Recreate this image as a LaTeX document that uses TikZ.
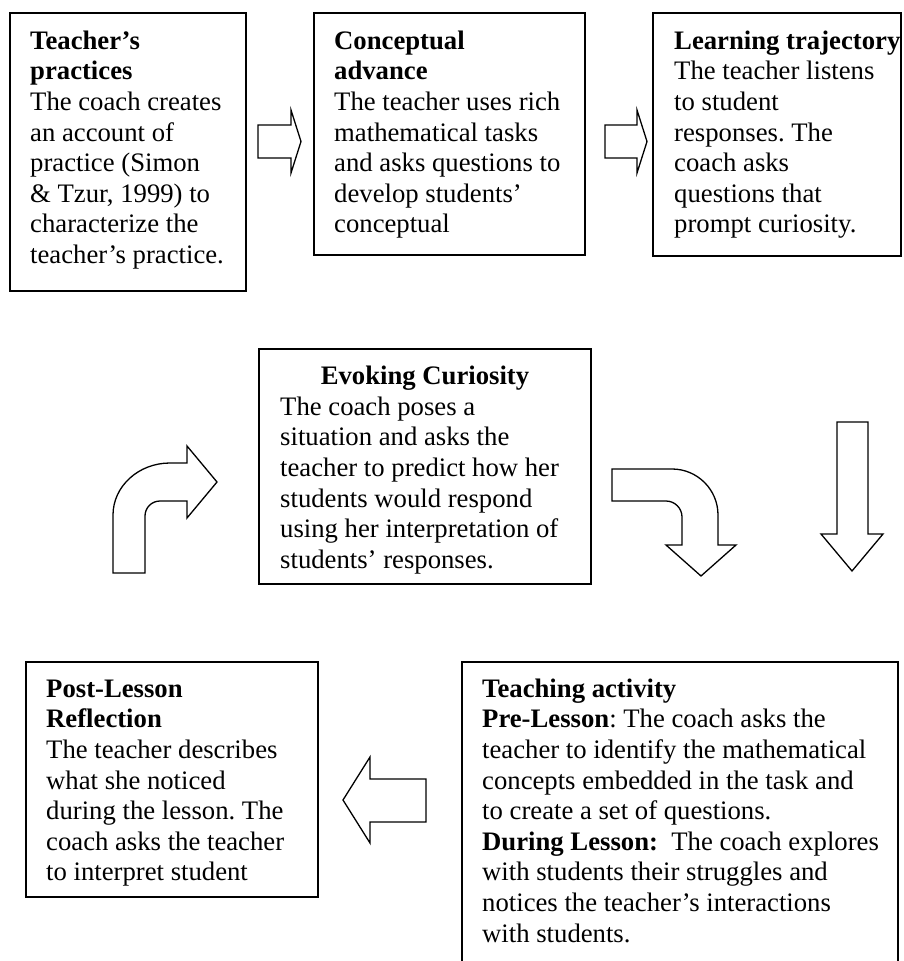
\documentclass[tikz,border=0pt]{standalone}
\usepackage{fontspec}
\setmainfont{Liberation Serif}
\frenchspacing
\begin{document}
\begin{tikzpicture}[x=1pt,y=-1pt,
  box/.style={draw=black, line width=1.6pt, fill=white},
  blockarrow/.style={draw=black, line width=1.3pt, fill=white, line join=miter},
  txt/.style={anchor=north west, inner sep=0pt, align=left,
    font=\fontsize{26.7}{30.6}\selectfont\frenchspacing},
  ttl/.style={anchor=base, inner sep=0pt,
    font=\fontsize{26.7}{30.6}\selectfont\bfseries}]
\useasboundingbox (0,0) rectangle (903,961);
\clip (0,0) rectangle (903,961);

% ---- frames ----
\draw[box] (10,13) rectangle (246,291);
\draw[box] (314,13) rectangle (585,255);
\draw[box] (653,13) rectangle (901,256);
\draw[box] (259,349) rectangle (591,584);
\draw[box] (26,662) rectangle (318,897);
\draw[box] (462,662) rectangle (898,1000);

% ---- texts (first baseline = node top + 20) ----
\node[txt] (practices) at (30,29) {\rule{0pt}{20pt}\textbf{Teacher’s}\\
  \textbf{practices}\\
  The coach creates\\
  an account of\\
  practice (Simon\\
  \& Tzur, 1999) to\\
  characterize the\\
  teacher’s practice.};

\node[txt] (advance) at (334,29) {\rule{0pt}{20pt}\textbf{Conceptual}\\
  \textbf{advance}\\
  The teacher uses rich\\
  mathematical tasks\\
  and asks questions to\\
  develop students’\\
  conceptual};

\node[txt] (trajectory) at (674,29) {\rule{0pt}{20pt}\textbf{Learning trajectory}\\
  The teacher listens\\
  to student\\
  responses. The\\
  coach asks\\
  questions that\\
  prompt curiosity.};

\node[ttl] (curiositytitle) at (425,384) {Evoking Curiosity};
\node[txt] (curiosity) at (280,395) {\rule{0pt}{20pt}The coach poses a\\
  situation and asks the\\
  teacher to predict how her\\
  students would respond\\
  using her interpretation of\\
  students’ responses.};

\node[txt] (reflection) at (46,677) {\rule{0pt}{20pt}\textbf{Post-Lesson}\\
  \textbf{Reflection}\\
  The teacher describes\\
  what she noticed\\
  during the lesson. The\\
  coach asks the teacher\\
  to interpret student};

\node[txt] (activity) at (482,677) {\rule{0pt}{20pt}\textbf{Teaching activity}\\
  \textbf{Pre-Lesson}: The coach asks the\\
  teacher to identify the mathematical\\
  concepts embedded in the task and\\
  to create a set of questions.\\
  \textbf{During Lesson:}\ \ The coach explores\\
  with students their struggles and\\
  notices the teacher’s interactions\\
  with students.};

% ---- block arrows ----
% right arrows between the top frames
\draw[blockarrow] (258,125) -- (291,125) -- (291,110) -- (301,141.5)
  -- (291,173) -- (291,158) -- (258,158) -- cycle;
\draw[blockarrow] (605,125) -- (637,125) -- (637,110) -- (647,141.5)
  -- (637,173) -- (637,158) -- (605,158) -- cycle;

% bent arrow: up, then right
\draw[blockarrow] (113,573) -- (113,515)
  .. controls (113,486.3) and (138.5,463) .. (170,463)
  -- (187,463) -- (187,446) -- (217,482) -- (187,518) -- (187,501)
  -- (160,501) .. controls (151.7,501) and (145,507.7) .. (145,516)
  -- (145,573) -- cycle;

% bent arrow: right, then down
\draw[blockarrow] (612,469) -- (672,469)
  .. controls (697.4,469) and (718,489.6) .. (718,515)
  -- (718,545) -- (736,545) -- (701,576) -- (666,545) -- (682,545)
  -- (682,517) .. controls (682,508.2) and (674.8,501) .. (666,501)
  -- (612,501) -- cycle;

% straight down arrow
\draw[blockarrow] (837,422) -- (868,422) -- (868,534) -- (883,534)
  -- (852,571) -- (821,534) -- (837,534) -- cycle;

% left arrow between the bottom frames
\draw[blockarrow] (426,779) -- (370,779) -- (370,757) -- (343,800)
  -- (370,843) -- (370,822) -- (426,822) -- cycle;
\end{tikzpicture}
\end{document}
